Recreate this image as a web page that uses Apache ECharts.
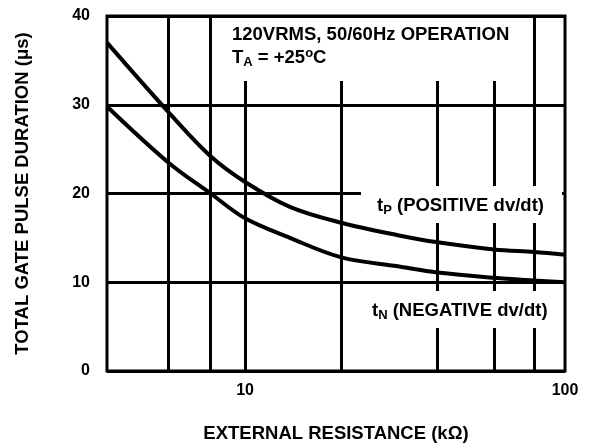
<!DOCTYPE html>
<html>
<head>
<meta charset="utf-8">
<script src="https://cdn.jsdelivr.net/npm/echarts@6/dist/echarts.min.js"></script>
<style>
  html, body { margin: 0; padding: 0; background: #fff; }
  #chart { width: 591px; height: 445px; }
</style>
</head>
<body>
<div id="chart"></div>
<script>
// external resistance (kOhm)
const resistance = [3.7, 5.75, 7.8, 10, 13.8, 20, 30, 40, 60, 80, 100]
// gate pulse duration (us)
const tPositive = [37.0, 29.2, 24.2, 21.3, 18.5, 16.7, 15.3, 14.5, 13.7, 13.4, 13.1]
const tNegative = [29.8, 23.5, 20.0, 17.2, 15.0, 12.8, 11.8, 11.1, 10.5, 10.2, 10.0]
// vertical grid lines of the log axis
const xGridLines = [5.75, 7.8, 10, 20, 40, 60, 80]
const xTickLabels = [10, 100]
const yTicks = [0, 10, 20, 30, 40]

const font = 'Liberation Sans, Arial, sans-serif'
const bold = { fontFamily: font, fontWeight: 'bold', fontSize: 18.5, fill: '#000' }
const small = { fontFamily: font, fontWeight: 'bold', fontSize: 13, fill: '#000' }

function pairs(xs, ys) {
  return xs.map((x, i) => [x, ys[i]])
}

const myChart = echarts.init(document.getElementById('chart'))

const option = {
  animation: false,
  backgroundColor: '#fff',
  grid: {
    left: 107, right: 26, top: 16, bottom: 74,
    outerBoundsMode: 'none',
    show: true, borderColor: '#000', borderWidth: 3, backgroundColor: 'transparent'
  },
  xAxis: {
    type: 'log',
    logBase: 10,
    min: resistance[0],
    max: 100,
    name: 'EXTERNAL RESISTANCE (kΩ)',
    nameLocation: 'middle',
    nameGap: 53,
    nameTextStyle: { fontFamily: font, fontWeight: 'bold', fontSize: 18.5, color: '#000' },
    axisLine: { show: false },
    axisTick: { show: false },
    splitLine: { show: false },
    axisLabel: {
      showMinLabel: false,
      margin: 12,
      fontFamily: font, fontWeight: 'bold', fontSize: 16, color: '#000',
      formatter: v => (xTickLabels.indexOf(Math.round(v)) >= 0 ? String(Math.round(v)) : '')
    }
  },
  yAxis: {
    type: 'value',
    min: yTicks[0],
    max: yTicks[yTicks.length - 1],
    interval: 10,
    name: 'TOTAL GATE PULSE DURATION (μs)',
    nameLocation: 'middle',
    nameGap: 75,
    nameTextStyle: { fontFamily: font, fontWeight: 'bold', fontSize: 18.5, color: '#000' },
    axisLine: { show: false },
    axisTick: { show: false },
    splitLine: { show: true, lineStyle: { color: '#000', width: 3 } },
    axisLabel: { margin: 17, fontFamily: font, fontWeight: 'bold', fontSize: 16, color: '#000' }
  },
  series: [
    {
      type: 'line',
      name: 'grid',
      data: [],
      silent: true,
      markLine: {
        silent: true,
        symbol: 'none',
        label: { show: false },
        lineStyle: { color: '#000', width: 3, type: 'solid' },
        data: xGridLines.map(v => ({ xAxis: v }))
      }
    },
    {
      type: 'line',
      name: 'tP',
      data: pairs(resistance, tPositive),
      smooth: 0.35,
      showSymbol: false,
      lineStyle: { color: '#000', width: 4 },
      z: 3
    },
    {
      type: 'line',
      name: 'tN',
      data: pairs(resistance, tNegative),
      smooth: 0.35,
      showSymbol: false,
      lineStyle: { color: '#000', width: 4 },
      z: 3
    }
  ],
  graphic: [
    // white boxes behind the annotations, breaking the grid lines as in the original
    { type: 'rect', zlevel: 1, z: 10, shape: { x: 212, y: 18, width: 319, height: 63 }, style: { fill: '#fff' } },
    { type: 'rect', zlevel: 1, z: 10, shape: { x: 361, y: 186, width: 201, height: 37 }, style: { fill: '#fff' } },
    { type: 'rect', zlevel: 1, z: 10, shape: { x: 345, y: 291, width: 217, height: 37 }, style: { fill: '#fff' } },
    {
      type: 'text', zlevel: 1, z: 11, left: 232, top: 25,
      style: {
        text: '{b|120VRMS, 50/60Hz OPERATION}\n{b|T}{sub|A}{b| = +25}{sup|o}{b|C}',
        rich: {
          b: Object.assign({ lineHeight: 23 }, bold),
          sub: Object.assign({ lineHeight: 23, padding: [9, 0, 0, 0] }, small),
          sup: Object.assign({ lineHeight: 23, padding: [0, 0, 9, 0] }, small)
        }
      }
    },
    {
      type: 'text', zlevel: 1, z: 11, left: 377, top: 196,
      style: {
        text: '{b|t}{sub|P}{b| (POSITIVE dv/dt)}',
        rich: {
          b: bold,
          sub: Object.assign({ padding: [9, 0, 0, 0] }, small)
        }
      }
    },
    {
      type: 'text', zlevel: 1, z: 11, left: 372, top: 301,
      style: {
        text: '{b|t}{sub|N}{b| (NEGATIVE dv/dt)}',
        rich: {
          b: bold,
          sub: Object.assign({ padding: [9, 0, 0, 0] }, small)
        }
      }
    }
  ]
}

myChart.setOption(option)
</script>
</body>
</html>
